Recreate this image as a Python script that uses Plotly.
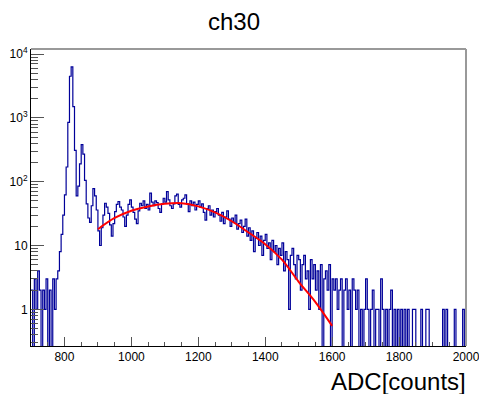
import plotly.graph_objects as go

# ---- data ----
bin_start = 700
bin_width = 5
counts = [
    2, 0, 3, 1, 4, 2, 0, 2, 1, 3, 0, 2, 0, 3, 1, 3, 4, 8, 15, 30,            # 700-795
    62, 170, 850, 4500, 6300, 1500, 310, 60, 85, 190, 380, 270, 105, 45, 27, 23, 42, 78, 60, 36,  # 800-895
    17, 10, 19, 30, 46, 40, 32, 21, 14, 22, 34, 44, 49, 40, 36, 28, 20, 30, 44, 52,  # 900-995
    40, 33, 26, 22, 35, 46, 42, 50, 38, 44, 36, 66, 48, 42, 50, 47, 38, 33, 45, 55,  # 1000-1095
    48, 70, 52, 42, 38, 45, 60, 64, 44, 40, 52, 55, 62, 45, 34, 50, 42, 48, 36, 44,  # 1100-1195
    50, 40, 45, 33, 25, 38, 42, 30, 36, 28, 34, 38, 30, 24, 33, 22, 28, 35, 26, 20,  # 1200-1295
    27, 23, 30, 18, 22, 25, 16, 20, 26, 14, 19, 12, 17, 8, 13, 16, 10, 14, 7, 12,    # 1300-1395
    15, 9, 11, 6, 12, 8, 10, 5, 9, 7, 11, 4, 8, 6, 1, 7, 9, 5, 3, 7,                 # 1400-1495
    6, 2, 5, 7, 3, 4, 1, 6, 3, 5, 2, 4, 1, 5, 0, 3, 4, 2, 5, 0,                      # 1500-1595
    3, 2, 3, 1, 2, 3, 0, 2, 3, 1, 2, 0, 3, 2, 1, 2, 0, 1, 0, 1,                      # 1600-1695
    3, 1, 0, 1, 2, 0, 1, 1, 0, 3, 1, 0, 1, 0, 1, 2, 0, 1, 0, 1,                      # 1700-1795
    0, 1, 0, 1, 0, 1, 0, 0, 1, 1, 0, 0, 0, 1, 0, 0, 1, 1, 0, 0,                      # 1800-1895
    0, 0, 0, 0, 0, 0, 1, 0, 1, 0, 0, 0, 0, 1, 0, 0, 0, 0, 1, 0,                      # 1900-1995
]

fit_x = [900, 950, 1000, 1050, 1100, 1150, 1200, 1250, 1300, 1350, 1400, 1450, 1500, 1550, 1600]
fit_y = [18, 27, 35, 41, 45, 46, 41, 33, 24, 16, 10.5, 6.0, 2.7, 1.3, 0.55]

x_ticks = [800, 1000, 1200, 1400, 1600, 1800, 2000]
y_ticks = [1, 10, 100, 1000, 10000]
y_ticktext = ["1", "10", "10<sup>2</sup>", "10<sup>3</sup>", "10<sup>4</sup>"]

title_text = "ch30"
xaxis_title = "ADC[counts]"

# ---- build step histogram ----
edges = [bin_start + bin_width * i for i in range(len(counts) + 1)]
floor = 0.05  # empty bins drop below the frame on the log axis
hist_y = [c if c > 0 else floor for c in counts]
hist_y = hist_y + [hist_y[-1]]

y_minor = [m * 10 ** e for e in range(-1, 5) for m in range(2, 10)]

FONT = "Liberation Sans, Arial, Helvetica, sans-serif"

fig = go.Figure()
fig.add_trace(go.Scatter(
    x=edges, y=hist_y, mode="lines", line=dict(color="#000099", width=1.2, shape="hv"),
    hoverinfo="skip", showlegend=False))
fig.add_trace(go.Scatter(
    x=fit_x, y=fit_y, mode="lines", line=dict(color="#ff0000", width=2, shape="spline"),
    hoverinfo="skip", showlegend=False))

fig.update_layout(
    width=479, height=394,
    margin=dict(l=31, r=13, t=49, b=48, autoexpand=False),
    paper_bgcolor="white", plot_bgcolor="white",
    font=dict(family=FONT, color="black", size=12),
    xaxis=dict(range=[700, 2000], showgrid=False, zeroline=False, automargin=False,
               showline=True, linecolor="black", linewidth=1,
               tickvals=x_ticks, ticks="inside", ticklen=9, tickcolor="#555",
               tickfont=dict(size=12, family=FONT), ticklabeloverflow="allow",
               minor=dict(dtick=50, tick0=700, ticks="inside", ticklen=4.5, tickcolor="#555")),
    yaxis=dict(type="log", range=[-0.575, 4.08], showgrid=False, zeroline=False, automargin=False,
               showline=True, linecolor="black", linewidth=1,
               tickvals=y_ticks, ticktext=y_ticktext, ticks="inside", ticklen=13, tickcolor="#555",
               tickfont=dict(size=12, family=FONT),
               minor=dict(tickvals=y_minor, ticks="inside", ticklen=6.5, tickcolor="#555")),
    shapes=[
        dict(type="line", xref="paper", yref="paper", x0=0, x1=1, y0=1, y1=1,
             line=dict(color="#999999", width=2)),
        dict(type="line", xref="paper", yref="paper", x0=1, x1=1, y0=0, y1=1,
             line=dict(color="#999999", width=2)),
    ],
    annotations=[
        dict(text=title_text, xref="paper", yref="paper", x=0.4667, y=1.091,
             xanchor="center", yanchor="middle", showarrow=False,
             font=dict(size=24, family=FONT)),
        dict(text=xaxis_title, xref="paper", yref="paper", x=1.0046, y=-0.118,
             xanchor="right", yanchor="middle", showarrow=False,
             font=dict(size=24, family=FONT)),
    ],
)

fig.write_html("out.html", config={"displayModeBar": False, "staticPlot": True},
               post_script="document.body.style.margin='0';document.body.style.overflow='hidden';")
